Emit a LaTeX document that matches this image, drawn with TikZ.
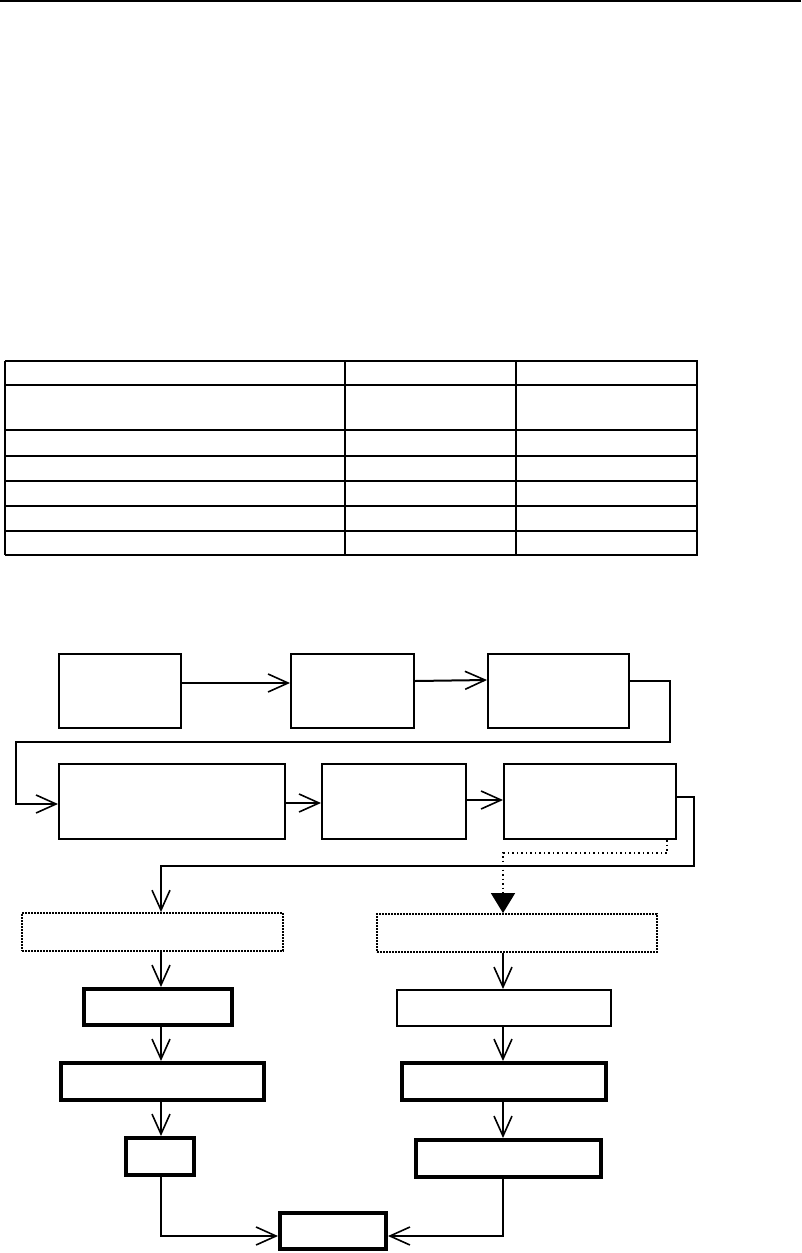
\documentclass[tikz,border=0pt]{standalone}
\usepackage{tikz}
\usetikzlibrary{arrows.meta,positioning,calc}
\tikzset{
  pbox/.style={draw,line width=2pt,inner sep=0pt},
  hbox/.style={draw,line width=4pt,inner sep=0pt},
  dbox/.style={draw,line width=1.8pt,dash pattern=on 1.8pt off 1.2pt,inner sep=0pt},
  arr/.style={-{Straight Barb[length=20pt,width=18pt,line width=1.6pt]},line width=1.6pt},
  dotarr/.style={-{Triangle[length=20pt,width=24pt]},line width=1.5pt,dash pattern=on 1.5pt off 3pt},
  tline/.style={line width=1.1pt},
  tthick/.style={line width=2.4pt},
}
\begin{document}
\begin{tikzpicture}[x=1pt,y=-1pt]
  \useasboundingbox (0,0) rectangle (801,1253);
  % top rule
  \draw[line width=1.2pt] (0,1) -- (801,1);
  % table grid
  \foreach \y in {361,481,506,531,555} \draw[tline] (5,\y) -- (697,\y);
  \foreach \y in {385,430,456} \draw[tthick] (5,\y) -- (697,\y);
  \foreach \x in {5,345,516} \draw[tline] (\x,361) -- (\x,555);
  \draw[tthick] (697,360) -- (697,556);

  % first row
  \node[pbox,minimum width=122pt,minimum height=74pt] (A) at (120,691) {};
  \node[pbox,minimum width=123pt,minimum height=74pt] (B) at (352.5,691) {};
  \node[pbox,minimum width=141pt,minimum height=74pt] (C) at (558.5,691) {};
  % second row
  \node[pbox,minimum width=226pt,minimum height=75pt] (D) at (172,801.5) {};
  \node[pbox,minimum width=144pt,minimum height=75pt] (E) at (394,801.5) {};
  \node[pbox,minimum width=172pt,minimum height=75pt] (F) at (590,801.5) {};
  % two branches
  \node[dbox,minimum width=261pt,minimum height=38pt] (G) at (152.5,932) {};
  \node[dbox,minimum width=280pt,minimum height=38pt] (H) at (517,933) {};
  \node[hbox,minimum width=148pt,minimum height=36pt] (I) at (158,1007) {};
  \node[pbox,minimum width=214pt,minimum height=36pt] (J) at (504,1008) {};
  \node[hbox,minimum width=203pt,minimum height=37pt] (K) at (162.5,1081.5) {};
  \node[hbox,minimum width=204pt,minimum height=37pt] (L) at (504,1081.5) {};
  \node[hbox,minimum width=68pt,minimum height=37pt] (M) at (160,1156.5) {};
  \node[hbox,minimum width=185pt,minimum height=37pt] (N) at (508.5,1158.5) {};
  \node[hbox,minimum width=106pt,minimum height=36pt] (O) at (333,1231) {};
  \coordinate (lcol) at (161,0);
  \coordinate (rcol) at (503,0);

  \draw[arr,line width=2.6pt] ([yshift=8pt]A.east) -- ([yshift=8pt]B.west);
  \draw[arr,line width=2pt] ([yshift=10pt]B.east) -- ([yshift=11pt]C.west);
  \draw[arr] ([yshift=10pt]C.east) -| (670,742) -| (16,804) -- ([yshift=-2.5pt]D.west);
  \draw[arr,line width=2.2pt] ([yshift=-1.5pt]D.east) -- ([yshift=-1.5pt]E.west);
  \draw[arr,line width=2.2pt] ([yshift=1.5pt]E.east) -- ([yshift=1.5pt]F.west);
  \draw[arr] ([yshift=4.5pt]F.east) -| (694,866) -| (G.north -| lcol);
  \draw[dotarr] ([xshift=-10pt]F.south east) -- ++(0,13) -| (H.north -| rcol);

  \draw[arr] (G.south -| lcol) -- (I.north -| lcol);
  \draw[arr] (I.south -| lcol) -- (K.north -| lcol);
  \draw[arr] (K.south -| lcol) -- (M.north -| lcol);
  \draw[arr] (M.south -| lcol) |- ([yshift=-5pt]O.west);
  \draw[arr] (H.south -| rcol) -- (J.north -| rcol);
  \draw[arr] (J.south -| rcol) -- (L.north -| rcol);
  \draw[arr] (L.south -| rcol) -- (N.north -| rcol);
  \draw[arr] (N.south -| rcol) |- ([yshift=-5pt]O.east);
\end{tikzpicture}
\end{document}
